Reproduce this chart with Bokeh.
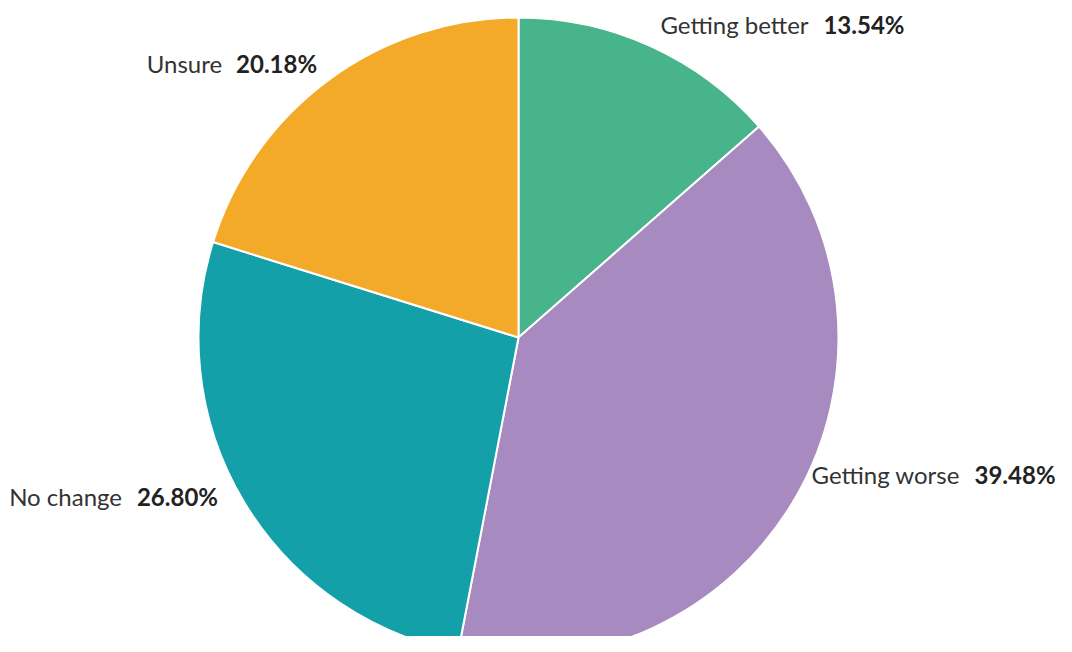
import math
from bokeh.plotting import figure
from bokeh.models import Range1d
from bokeh.core.properties import value
from bokeh.embed import file_html
from bokeh.resources import INLINE

# ---- data ----
categories = ["Getting better", "Getting worse", "No change", "Unsure"]
shares = [13.54, 39.48, 26.80, 20.18]
pct_labels = ["13.54%", "39.48%", "26.80%", "20.18%"]
colors = ["#48B48B", "#A78ABF", "#13A0A8", "#F3AA29"]

# ---- layout ----
W, H = 1056, 636
CX, CY = 518, H - 337        # data coords: y_data = H - y_screen
R = 320
label_r = [344, 340, 340, 340]
label_angle_nudge = [0.0, 6.0, -3.0, 0.0]    # degrees, layout tweak
name_w = [148, 148, 110, 70]                  # approx text widths px
pct_w = [82, 80, 81, 80]
GAP = 15
FONT = "Lato"
FS = "24px"

p = figure(width=W, height=H, output_backend="svg", toolbar_location=None,
           x_range=Range1d(0, W), y_range=Range1d(0, H),
           x_axis_type=None, y_axis_type=None, min_border=0,
           outline_line_color=None, background_fill_color="white",
           border_fill_color="white")
p.grid.visible = False

total = sum(shares)
cum = 0.0
starts, ends, mids = [], [], []
for s in shares:
    a0 = math.pi / 2 - 2 * math.pi * (cum + s) / total
    a1 = math.pi / 2 - 2 * math.pi * cum / total
    starts.append(a0)
    ends.append(a1)
    mids.append((a0 + a1) / 2)
    cum += s

p.wedge(x=[CX] * len(shares), y=[CY] * len(shares), radius=R,
        start_angle=starts, end_angle=ends, fill_color=colors,
        line_color="white", line_width=2)

for i, cat in enumerate(categories):
    a = mids[i] + math.radians(label_angle_nudge[i])
    lx = CX + label_r[i] * math.cos(a)
    ly = CY + label_r[i] * math.sin(a)
    if math.cos(a) >= 0:
        nx, px = lx, lx + name_w[i] + GAP
        limit = W - 2
        if px + pct_w[i] > limit:
            shift = px + pct_w[i] - limit
            nx -= shift
            px -= shift
        p.text(x=[nx], y=[ly], text=[cat], text_font=value(FONT),
               text_font_size=FS, text_color="#333333",
               text_align="left", text_baseline="middle")
        p.text(x=[px], y=[ly], text=[pct_labels[i]], text_font=value(FONT),
               text_font_size=FS, text_font_style="bold", text_color="#222222",
               text_align="left", text_baseline="middle")
    else:
        px, nx = lx, lx - pct_w[i] - GAP
        p.text(x=[px], y=[ly], text=[pct_labels[i]], text_font=value(FONT),
               text_font_size=FS, text_font_style="bold", text_color="#222222",
               text_align="right", text_baseline="middle")
        p.text(x=[nx], y=[ly], text=[cat], text_font=value(FONT),
               text_font_size=FS, text_color="#333333",
               text_align="right", text_baseline="middle")

open("out.html", "w").write(file_html(p, INLINE))
